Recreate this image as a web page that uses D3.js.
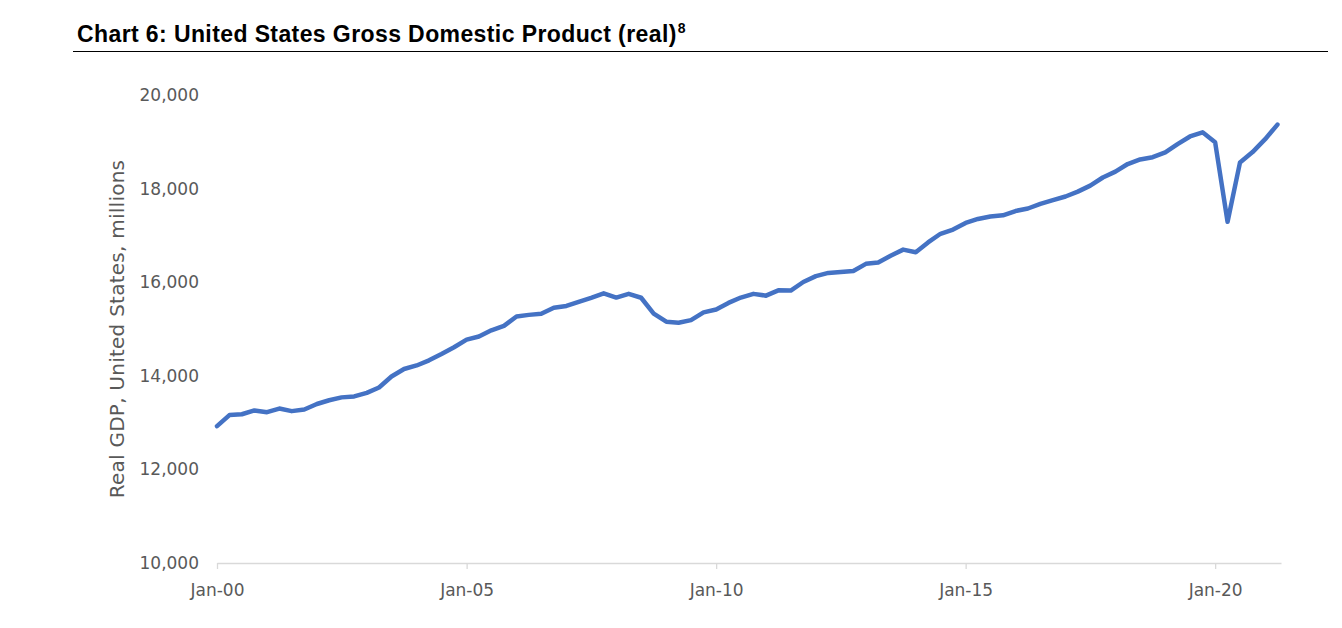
<!DOCTYPE html>
<html>
<head>
<meta charset="utf-8">
<script src="https://cdn.jsdelivr.net/npm/d3@7"></script>
<style>
  html, body { margin: 0; padding: 0; background: #ffffff; }
  svg { display: block; }
</style>
</head>
<body>
<svg id="chart" width="1342" height="628"></svg>
<script>
// ---- Data (quarterly real GDP) ----
const quarters = [
  "2000Q1","2000Q2","2000Q3","2000Q4",
  "2001Q1","2001Q2","2001Q3","2001Q4",
  "2002Q1","2002Q2","2002Q3","2002Q4",
  "2003Q1","2003Q2","2003Q3","2003Q4",
  "2004Q1","2004Q2","2004Q3","2004Q4",
  "2005Q1","2005Q2","2005Q3","2005Q4",
  "2006Q1","2006Q2","2006Q3","2006Q4",
  "2007Q1","2007Q2","2007Q3","2007Q4",
  "2008Q1","2008Q2","2008Q3","2008Q4",
  "2009Q1","2009Q2","2009Q3","2009Q4",
  "2010Q1","2010Q2","2010Q3","2010Q4",
  "2011Q1","2011Q2","2011Q3","2011Q4",
  "2012Q1","2012Q2","2012Q3","2012Q4",
  "2013Q1","2013Q2","2013Q3","2013Q4",
  "2014Q1","2014Q2","2014Q3","2014Q4",
  "2015Q1","2015Q2","2015Q3","2015Q4",
  "2016Q1","2016Q2","2016Q3","2016Q4",
  "2017Q1","2017Q2","2017Q3","2017Q4",
  "2018Q1","2018Q2","2018Q3","2018Q4",
  "2019Q1","2019Q2","2019Q3","2019Q4",
  "2020Q1","2020Q2","2020Q3","2020Q4",
  "2021Q1","2021Q2"
];
const gdpValues = [
  12924, 13160, 13178, 13260,
  13222, 13300, 13245, 13281,
  13397, 13478, 13539, 13559,
  13635, 13751, 13985, 14146,
  14221, 14330, 14465, 14610,
  14772, 14840, 14972, 15067,
  15267, 15302, 15327, 15456,
  15493, 15582, 15667, 15762,
  15671, 15752, 15668, 15328,
  15156, 15134, 15190, 15356,
  15416, 15557, 15672, 15751,
  15712, 15826, 15821, 16004,
  16130, 16198, 16220, 16240,
  16392, 16419, 16565, 16696,
  16640, 16850, 17035, 17125,
  17267, 17352, 17405, 17430,
  17521, 17575, 17673, 17755,
  17831, 17935, 18063, 18237,
  18362, 18525, 18623, 18671,
  18775, 18951, 19114, 19202,
  18990, 17290, 18560, 18780,
  19056, 19368
];
const yTicks = [10000, 12000, 14000, 16000, 18000, 20000];
const xTickYears = [2000, 2005, 2010, 2015, 2020];
const xTickLabels = ["Jan-00", "Jan-05", "Jan-10", "Jan-15", "Jan-20"];
const titleText = "Chart 6: United States Gross Domestic Product (real)";
const titleNote = "8";
const yAxisTitle = "Real GDP, United States, millions";

// ---- Layout ----
const svg = d3.select("#chart");
const plot = { left: 217, right: 1281, top: 95, bottom: 563 };

const parseQ = q => new Date(+q.slice(0, 4), (+q.slice(5) - 1) * 3, 1);
const data = quarters.map((q, i) => ({ date: parseQ(q), value: gdpValues[i] }));

const x = d3.scaleTime()
  .domain([new Date(2000, 0, 1), new Date(2021, 3, 27)])
  .range([plot.left, plot.right]);
const y = d3.scaleLinear()
  .domain([10000, 20000])
  .range([plot.bottom, plot.top]);

const labelFont = "'DejaVu Sans', sans-serif";
const gray = "#595959";

// Title
const title = svg.append("text")
  .attr("x", 77).attr("y", 42)
  .attr("font-family", "'Liberation Sans', Arial, sans-serif")
  .attr("font-weight", "bold")
  .attr("font-size", 23)
  .attr("letter-spacing", 0.4)
  .attr("fill", "#000");
title.append("tspan").text(titleText);
title.append("tspan").attr("font-size", 14).attr("dx", 1).attr("dy", -9).text(titleNote);

svg.append("line")
  .attr("x1", 73).attr("x2", 1328)
  .attr("y1", 51.5).attr("y2", 51.5)
  .attr("stroke", "#000").attr("stroke-width", 1);

// Y axis (labels only)
const yAxis = d3.axisLeft(y)
  .tickValues(yTicks)
  .tickSize(0)
  .tickPadding(0)
  .tickFormat(d3.format(","));
const yg = svg.append("g")
  .attr("transform", `translate(199,0)`)
  .call(yAxis);
yg.select(".domain").remove();
yg.selectAll("text")
  .attr("font-family", labelFont)
  .attr("font-size", 17)
  .attr("fill", gray);

// X axis
const xAxis = d3.axisBottom(x)
  .tickValues(xTickYears.map(yr => new Date(yr, 0, 1)))
  .tickSize(6)
  .tickSizeOuter(0)
  .tickPadding(15)
  .tickFormat((d, i) => xTickLabels[i]);
const xg = svg.append("g")
  .attr("transform", `translate(0,${plot.bottom})`)
  .call(xAxis);
xg.select(".domain").attr("stroke", "#d9d9d9").attr("stroke-width", 1.3);
xg.selectAll(".tick line").attr("stroke", "#d9d9d9").attr("stroke-width", 1.3);
xg.selectAll("text")
  .attr("font-family", labelFont)
  .attr("font-size", 17)
  .attr("fill", gray);

// Y axis title
svg.append("text")
  .attr("transform", `translate(124,${(160 + 498) / 2}) rotate(-90)`)
  .attr("text-anchor", "middle")
  .attr("font-family", labelFont)
  .attr("font-size", 20)
  .attr("letter-spacing", 0.25)
  .attr("fill", gray)
  .text(yAxisTitle);

// Line
const line = d3.line()
  .x(d => x(d.date))
  .y(d => y(d.value));
svg.append("path")
  .datum(data)
  .attr("fill", "none")
  .attr("stroke", "#4472C4")
  .attr("stroke-width", 4.5)
  .attr("stroke-linejoin", "round")
  .attr("stroke-linecap", "round")
  .attr("d", line);
</script>
</body>
</html>
